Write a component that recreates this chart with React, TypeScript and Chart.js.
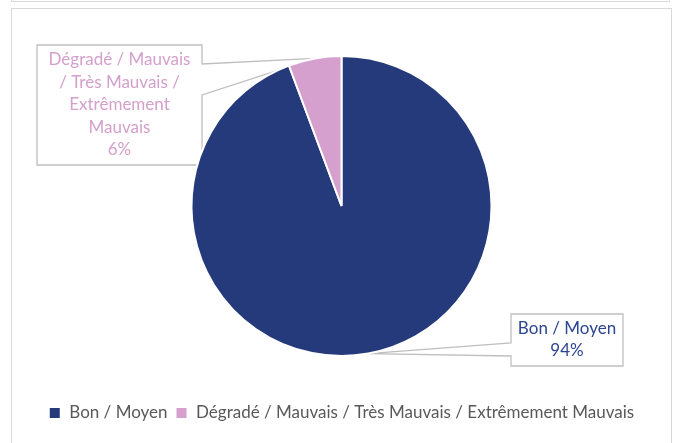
import React, { useEffect, useRef } from "react";
import { Chart, registerables } from "chart.js";

Chart.register(...registerables);

const categories = ["Bon / Moyen", "Dégradé / Mauvais / Très Mauvais / Extrêmement Mauvais"];
const values = [94.3, 5.7];
const colors = ["#243A7B", "#D5A0CD"];
const labelTextColors = ["#2B4590", "#D4A0CC"];
const labelLines = [["Bon / Moyen"], ["Dégradé / Mauvais", "/ Très Mauvais /", "Extrêmement", "Mauvais"]];

const FONT = "Lato, 'Open Sans', sans-serif";

// callout box geometry (manual label placement, like the original)
const callouts = [
  { x: 511, y: 314, w: 112, h: 52, side: "left", b1: 343, b2: 356, lh: 22 },
  { x: 37, y: 45, w: 165, h: 120, side: "right", b1: 64, b2: 95, lh: 22.5 },
];

const calloutPlugin = {
  id: "callouts",
  beforeDatasetsDraw(chart: any) {
    const ctx = chart.ctx;
    const meta = chart.getDatasetMeta(0);
    const total = values.reduce((a, b) => a + b, 0);
    meta.data.forEach((arc: any, i: number) => {
      const c = callouts[i];
      const p = arc.getProps(["x", "y", "startAngle", "endAngle", "outerRadius"], true);
      const mid = (p.startAngle + p.endAngle) / 2;
      const tx = p.x + Math.cos(mid) * p.outerRadius;
      const ty = p.y + Math.sin(mid) * p.outerRadius;
      ctx.save();
      ctx.beginPath();
      if (c.side === "right") {
        ctx.moveTo(c.x, c.y);
        ctx.lineTo(c.x + c.w, c.y);
        ctx.lineTo(c.x + c.w, c.b1);
        ctx.lineTo(tx, ty);
        ctx.lineTo(c.x + c.w, c.b2);
        ctx.lineTo(c.x + c.w, c.y + c.h);
        ctx.lineTo(c.x, c.y + c.h);
        ctx.closePath();
      } else {
        ctx.moveTo(c.x, c.y);
        ctx.lineTo(c.x + c.w, c.y);
        ctx.lineTo(c.x + c.w, c.y + c.h);
        ctx.lineTo(c.x, c.y + c.h);
        ctx.lineTo(c.x, c.b2);
        ctx.lineTo(tx, ty);
        ctx.lineTo(c.x, c.b1);
        ctx.closePath();
      }
      ctx.fillStyle = "#FFFFFF";
      ctx.fill();
      ctx.strokeStyle = "#BFBFBF";
      ctx.lineWidth = 1.3;
      ctx.stroke();
      const lines = [...labelLines[i], Math.round((values[i] / total) * 100) + "%"];
      ctx.fillStyle = labelTextColors[i];
      ctx.font = "17px " + FONT;
      ctx.textAlign = "center";
      ctx.textBaseline = "middle";
      const cx = c.x + c.w / 2;
      const startY = c.y + c.h / 2 - ((lines.length - 1) * c.lh) / 2;
      lines.forEach((t, k) => ctx.fillText(t, cx, startY + k * c.lh));
      ctx.restore();
    });
  },
};

export default function App() {
  const ref = useRef<HTMLCanvasElement>(null);
  useEffect(() => {
    const chart = new Chart(ref.current as HTMLCanvasElement, {
      type: "pie",
      data: {
        labels: categories,
        datasets: [
          {
            data: values,
            backgroundColor: colors,
            borderColor: "#FFFFFF",
            borderWidth: 2,
            radius: 150,
          },
        ],
      },
      options: {
        responsive: false,
        animation: false,
        layout: { padding: { left: 20, right: 15, top: 15.5, bottom: 11.5 } },
        plugins: {
          tooltip: { enabled: false },
          legend: {
            position: "bottom",
            labels: {
              boxWidth: 12,
              boxHeight: 12,
              padding: 8,
              color: "#595959",
              font: { family: FONT, size: 17 },
            },
          },
        },
      },
      plugins: [calloutPlugin],
    } as any);
    return () => chart.destroy();
  }, []);
  return (
    <div style={{ position: "absolute", left: 0, top: 0, width: 678, height: 443, overflow: "hidden", background: "#fff" }}>
      <div style={{ position: "absolute", left: 11, top: -20, width: 659, height: 22, border: "1.5px solid #D9D9D9", boxSizing: "border-box" }} />
      <div style={{ position: "absolute", left: 11, top: 8, width: 661, height: 460, border: "1.5px solid #D9D9D9", boxSizing: "border-box" }} />
      <canvas ref={ref} width={678} height={443} style={{ position: "absolute", left: 0, top: 0, width: 678, height: 443 }} />
    </div>
  );
}
